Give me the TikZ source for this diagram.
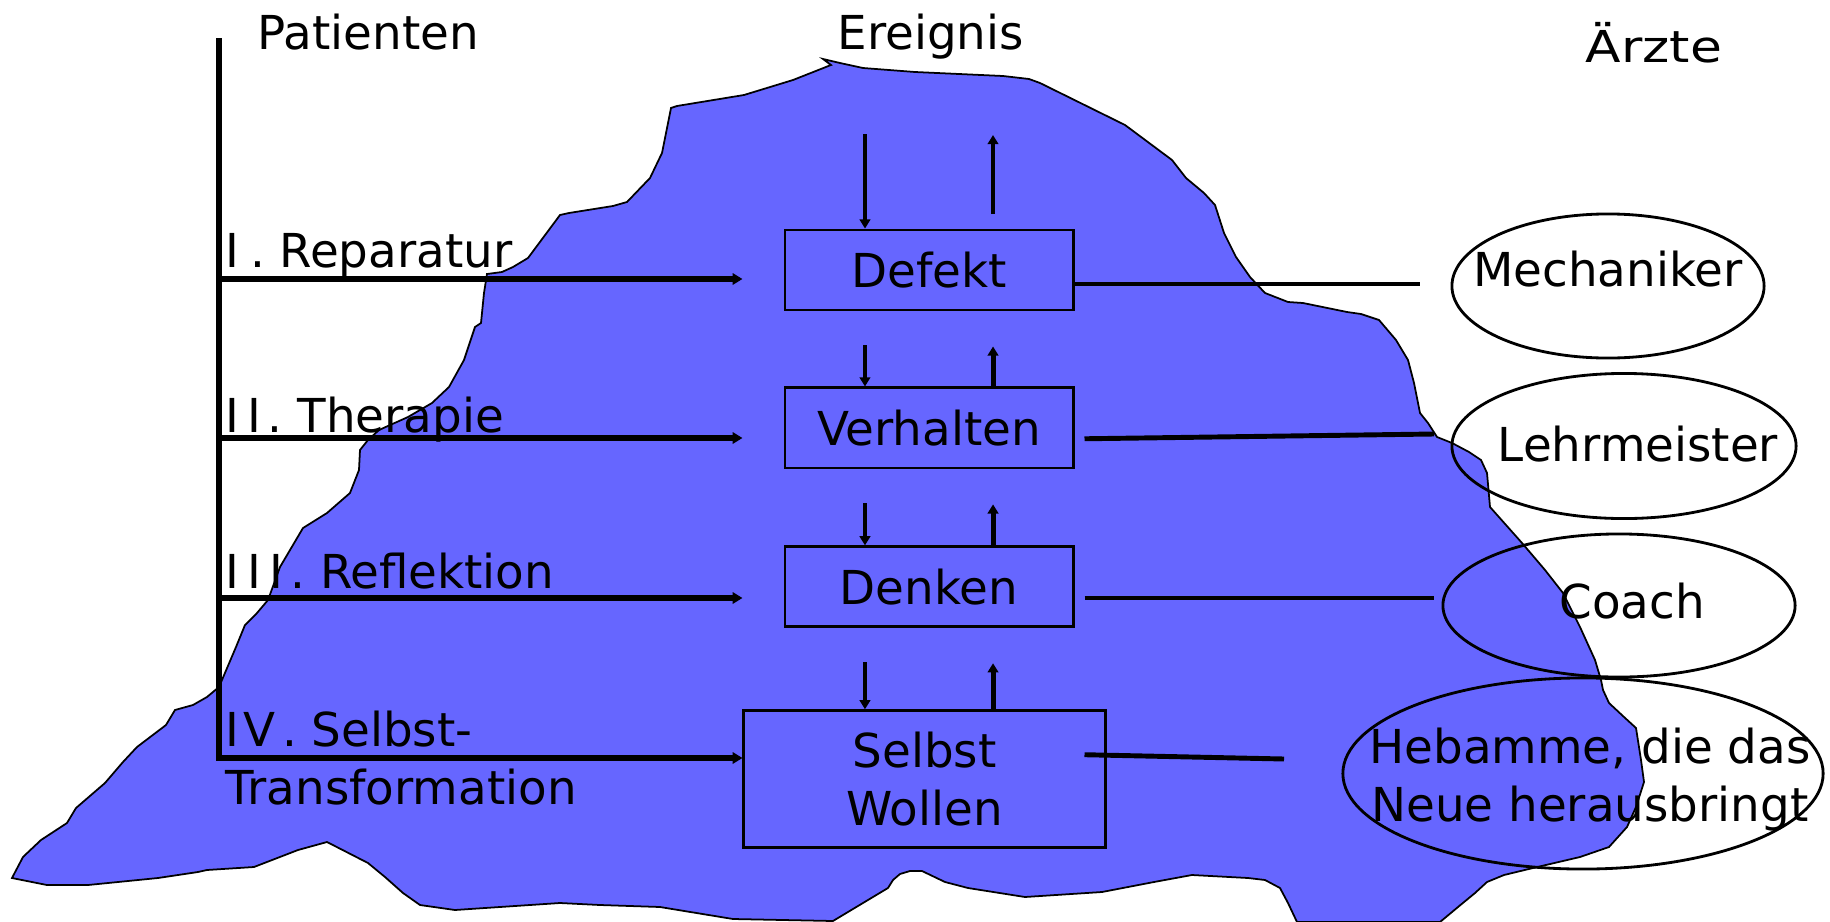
\documentclass[tikz,border=0pt]{standalone}
\usepackage{fontspec}
\setmainfont{DejaVu Sans}
\usepackage{tikz}
\usetikzlibrary{positioning,shapes.geometric,arrows.meta}
\definecolor{iceblue}{RGB}{102,102,255}

\begin{document}
\begin{tikzpicture}[x=0.01cm, y=-0.01cm,
    every node/.style={font=\fontsize{13.3}{16.5}\selectfont, inner sep=0pt},
    box/.style={draw, rectangle, fill=iceblue, line width=0.8pt, minimum width=2.88cm, minimum height=0.8cm, align=center},
    oval/.style={draw, ellipse, line width=0.8pt},
    harrow/.style={line width=1.7pt, -{Triangle[length=2.8pt, width=3.2pt]}},
    varrow/.style={line width=1.4pt, -{Triangle[length=2.6pt, width=3pt]}},
    link/.style={line width=1.4pt}]
    \useasboundingbox (0,0) rectangle (1830,921);

    % Iceberg
    \draw[fill=iceblue, line width=0.5pt] (823,59) -- (840,63) -- (863,68) -- (915,72) -- (1003,76) -- (1029,79) -- (1040,83)
        -- (1125,125) -- (1172,160) -- (1186,178) -- (1204,193) -- (1215,205) -- (1224,233) -- (1236,257) -- (1250,277)
        -- (1265,293) -- (1288,302) -- (1303,303) -- (1347,312) -- (1361,314) -- (1379,320) -- (1396,340) -- (1408,360)
        -- (1414,383) -- (1420,413) -- (1428,423) -- (1437,437) -- (1452,443) -- (1469,452) -- (1481,460) -- (1487,473)
        -- (1490,507) -- (1522,543) -- (1545,570) -- (1563,593) -- (1580,627) -- (1595,660) -- (1601,680) -- (1603,690)
        -- (1609,703) -- (1624,717) -- (1636,728) -- (1641,760) -- (1644,782) -- (1636,807) -- (1627,827) -- (1609,847)
        -- (1580,857) -- (1533,868) -- (1504,875) -- (1487,882) -- (1475,893) -- (1458,907) -- (1440,922) -- (1297,922)
        -- (1288,903) -- (1280,888) -- (1265,880) -- (1248,878) -- (1192,875) -- (1154,882) -- (1102,892) -- (1025,897)
        -- (968,888) -- (945,882) -- (922,871) -- (910,871) -- (900,874) -- (893,880) -- (888,888) -- (833,921)
        -- (733,919) -- (660,907) -- (600,905) -- (560,903) -- (455,910) -- (420,905) -- (403,893) -- (385,877)
        -- (368,863) -- (327,842) -- (298,850) -- (254,867) -- (207,870) -- (198,872) -- (158,878) -- (88,885)
        -- (47,885) -- (12,878) -- (23,857) -- (41,840) -- (67,823) -- (76,808) -- (105,783) -- (123,762) -- (137,747)
        -- (166,725) -- (175,710) -- (193,705) -- (207,697) -- (219,687) -- (236,647) -- (245,625) -- (257,613)
        -- (268,600) -- (280,567) -- (303,528) -- (327,513) -- (350,493) -- (359,470) -- (360,450) -- (368,440)
        -- (379,430) -- (408,417) -- (432,403) -- (449,387) -- (464,360) -- (475,327) -- (481,323) -- (484,293)
        -- (487,274) -- (502,272) -- (513,267) -- (528,258) -- (560,215) -- (569,213) -- (613,206) -- (627,202)
        -- (650,178) -- (662,153) -- (671,108) -- (677,106) -- (744,95) -- (793,80) -- (831,65) -- cycle;

    % Headings
    \node[anchor=base west] (patienten) at (257,49) {Patienten};
    \node[anchor=base west] (ereignis) at (837,49) {Ereignis};
    \node[anchor=base west] (aerzte) at (1585,62) {\scalebox{1.18}[1]{\fontsize{12.5}{15}\selectfont Ärzte}};

    % Levels
    \node[box] (defekt) at (929,270) {Defekt};
    \node[box, below=0.75cm of defekt] (verhalten) {Verhalten};
    \node[box, below=0.76cm of verhalten] (denken) {Denken};
    \node[box, below=0.81cm of denken, xshift=-0.045cm, minimum width=3.61cm, minimum height=1.37cm] (selbst) {Selbst\\Wollen};

    % Patient side
    \node[anchor=base west] (rep-label) at (225,267) {I\kern3pt. Reparatur};
    \node[anchor=base west] (ther-label) at (225,432) {I\kern2.3pt I\kern1.8pt. Therapie};
    \node[anchor=base west] (refl-label) at (225,588) {I\kern2.3pt I\kern2.3pt I\kern2pt. Reflektion};
    \node[anchor=west, align=left] (selbst-label) at (225,758) {I\kern1pt V\kern2pt. Selbst-\\Transformation};

    \coordinate (axis-top) at (219,38);
    \coordinate (axis-end) at (219,758);
    \coordinate (a1) at (219,279);
    \coordinate (a2) at (219,438);
    \coordinate (a3) at (219,598);
    \draw[harrow] (axis-top) -- (axis-end) -- (axis-end -| selbst.west);
    \foreach \c in {a1,a2,a3}
        \draw[harrow] (\c) -- (\c -| selbst.west);

    % Ereignis in and out
    \coordinate (ein) at (865,134);
    \coordinate (aus) at (993,135);
    \draw[varrow] (ein) -- (ein |- defekt.north);
    \draw[varrow] ([yshift=-0.79cm]aus) -- (aus);
    \foreach \a/\b in {defekt/verhalten, verhalten/denken, denken/selbst} {
        \draw[varrow, shorten <=0.34cm] ([xshift=-0.64cm]\a.south) -- ([xshift=-0.64cm]\a.south |- \b.north);
        \draw[varrow, shorten >=0.35cm] ([xshift=0.64cm]\a.south |- \b.north) -- ([xshift=0.64cm]\a.south);
    }

    % Doctors
    \node[oval, minimum width=3.12cm, minimum height=1.44cm, label={[yshift=0.17cm]center:Mechaniker}] (mech) at (1608,286) {};
    \node[oval, minimum width=3.44cm, minimum height=1.45cm, label={[xshift=0.14cm, yshift=0.02cm]center:Lehrmeister}] (lehr) at (1624,446) {};
    \node[oval, minimum width=3.52cm, minimum height=1.43cm, label={[xshift=0.13cm, yshift=0.045cm]center:Coach}] (coach) at (1619,605.5) {};
    \node[oval, minimum width=4.8cm, minimum height=1.91cm, label={[align=center, xshift=0.07cm, yshift=-0.06cm]center:{Hebamme, die das\\Neue herausbringt}}] (hebamme) at (1583,773.5) {};

    \coordinate (mech-in) at (1420,284);
    \coordinate (lehr-in) at (1434,434);
    \coordinate (coach-in) at (1434,598);
    \coordinate (hebamme-in) at (1284,759);
    \draw[link] (defekt.east |- mech-in) -- (mech-in);
    \draw[link, shorten <=0.1cm] ([yshift=-0.11cm]verhalten.east) -- (lehr-in);
    \draw[link, shorten <=0.1cm] (denken.east |- coach-in) -- (coach-in);
    \draw[link] ([xshift=-0.22cm, yshift=0.245cm]selbst.east) -- (hebamme-in);
\end{tikzpicture}
\end{document}
